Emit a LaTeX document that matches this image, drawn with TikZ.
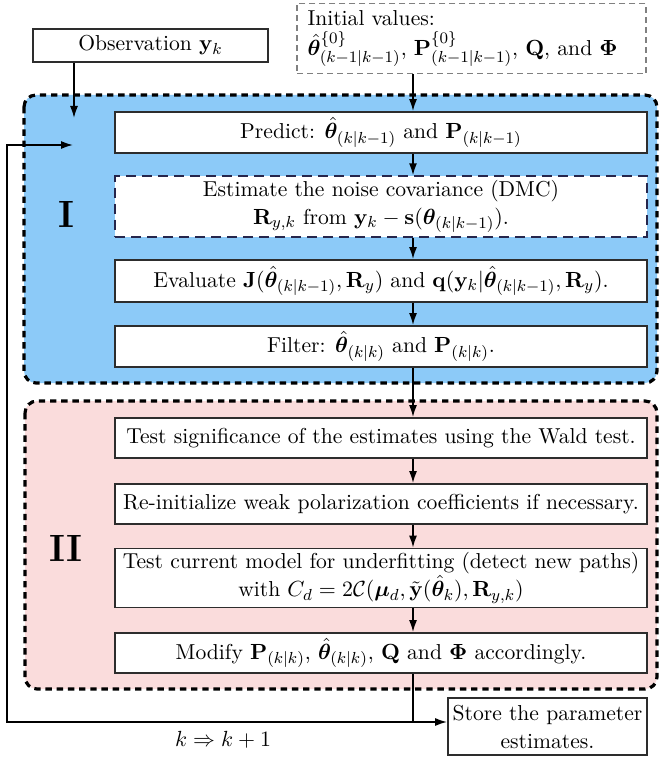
\documentclass[tikz,border=0pt]{standalone}
\usepackage{amsmath,bm}
\usetikzlibrary{arrows.meta}
\definecolor{stageone}{RGB}{140,202,248}
\definecolor{stagetwo}{RGB}{250,220,220}
\definecolor{boxline}{RGB}{45,45,45}
\begin{document}
\begin{tikzpicture}[x=0.5pt,y=-0.5pt,
        every node/.style={font=\fontsize{10.8}{14}\selectfont},
        blk/.style={draw=boxline, line width=0.9pt, fill=white, minimum width=266pt, align=center, inner sep=2pt},
        stage/.style={draw=black, line width=1.6pt, dash pattern=on 3.2pt off 2.4pt, rounded corners=6pt},
        flow/.style={line width=0.8pt, -{Latex[length=6pt,width=4pt]}}]
    \useasboundingbox (0,0) rectangle (660,758);
    % the two stages
    \draw[stage, fill=stageone] (24,95) rectangle (657,383);
    \draw[stage, fill=stagetwo] (25,401) rectangle (657,689);
    \node[font=\fontsize{19}{21}\selectfont\bfseries] (one) at (66,214) {I};
    \node[font=\fontsize{19}{21}\selectfont\bfseries] (two) at (66,548) {II};
    % inputs
    \node[draw=boxline, line width=0.9pt, minimum width=117.5pt, minimum height=16.5pt] (obs) at (150.5,45.5) {Observation $\mathbf{y}_k$};
    \node[draw=gray, line width=0.6pt, dash pattern=on 3pt off 2pt, minimum width=174.5pt, minimum height=33.5pt, align=left, text width=164pt] (init) at (471.5,38.5)
        {Initial values:\\[1pt] $\hat{\bm\theta}^{\{0\}}_{(k-1|k-1)}$, $\mathbf{P}^{\{0\}}_{(k-1|k-1)}$, $\mathbf{Q}$, and $\bm\Phi$};
    % stage I
    \node[blk, minimum height=20.5pt] (predict) at (381,132.5) {Predict: $\hat{\bm\theta}_{(k|k-1)}$ and $\mathbf{P}_{(k|k-1)}$};
    \node[blk, minimum height=29.5pt, draw=boxline!85!blue, dash pattern=on 5pt off 3pt] (dmc) at (381,206.5)
        {Estimate the noise covariance (DMC)\\ $\mathbf{R}_{y,k}$ from $\mathbf{y}_k-\mathbf{s}(\bm\theta_{(k|k-1)})$.};
    \node[blk, minimum height=21pt] (eval) at (381,281)
        {Evaluate $\mathbf{J}(\hat{\bm\theta}_{(k|k-1)},\mathbf{R}_y)$ and $\mathbf{q}(\mathbf{y}_k|\hat{\bm\theta}_{(k|k-1)},\mathbf{R}_y)$.};
    \node[blk, minimum height=20.5pt] (filter) at (381,346.5) {Filter: $\hat{\bm\theta}_{(k|k)}$ and $\mathbf{P}_{(k|k)}$.};
    % stage II
    \node[blk, minimum height=20pt] (wald) at (381,438) {Test significance of the estimates using the Wald test.};
    \node[blk, minimum height=20pt] (reinit) at (381,504) {Re-initialize weak polarization coefficients if necessary.};
    \node[blk, minimum height=29pt] (under) at (381,578)
        {Test current model for underfitting (detect new paths)\\ with $C_d=2\mathcal{C}(\bm\mu_d,\tilde{\mathbf{y}}(\hat{\bm\theta}_k),\mathbf{R}_{y,k})$};
    \node[blk, minimum height=20pt] (modify) at (381,653)
        {Modify $\mathbf{P}_{(k|k)}$, $\hat{\bm\theta}_{(k|k)}$, $\mathbf{Q}$ and $\bm\Phi$ accordingly.};
    \node[blk, minimum width=99.5pt, minimum height=28.5pt] (store) at (547.5,726.5) {Store the parameter\\ estimates.};
    \node (step) at (223,740) {$k\Rightarrow k+1$};
    % connectors
    \coordinate (axis) at (413,0);
    \coordinate (obsend) at (74,118);
    \coordinate (loopin) at (73,145);
    \coordinate (split) at (413,722);
    \draw[flow] (obs.south -| obsend) -- (obsend);
    \draw[flow] (init.south -| axis) -- (predict.north -| axis);
    \draw[flow] (predict.south -| axis) -- (dmc.north -| axis);
    \draw[flow] (dmc.south -| axis) -- (eval.north -| axis);
    \draw[flow] (eval.south -| axis) -- (filter.north -| axis);
    \draw[flow] (filter.south -| axis) -- (wald.north -| axis);
    \draw[flow] (wald.south -| axis) -- (reinit.north -| axis);
    \draw[flow] (reinit.south -| axis) -- (under.north -| axis);
    \draw[flow] (under.south -| axis) -- (modify.north -| axis);
    \draw[line width=0.8pt] (modify.south -| axis) -- (split);
    \draw[flow] (split) -- (store.west |- split);
    \draw[flow] (split) -- (7,722) -- (7,145) -- (loopin);
\end{tikzpicture}
\end{document}
